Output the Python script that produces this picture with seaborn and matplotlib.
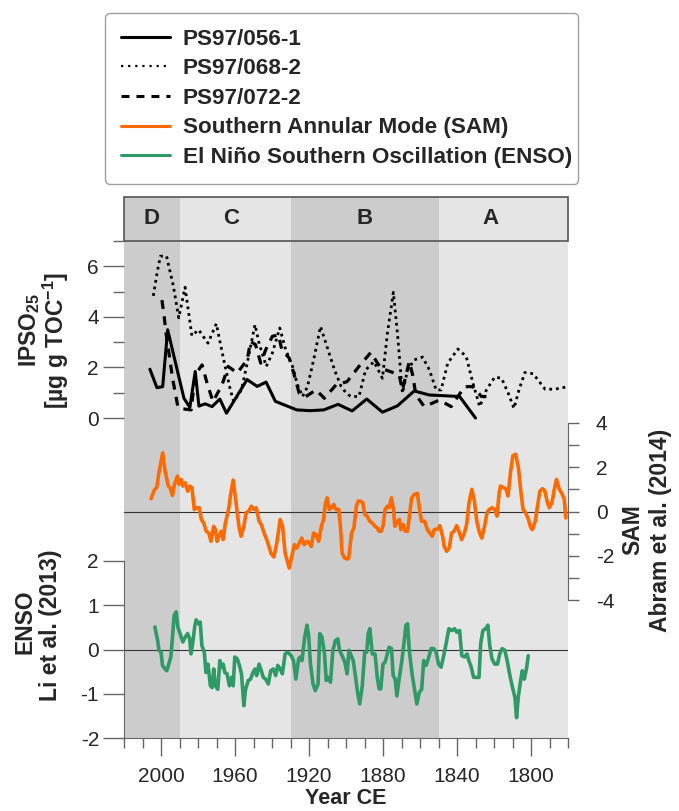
import matplotlib
matplotlib.use("Agg")
import matplotlib.pyplot as plt
from matplotlib.lines import Line2D
from matplotlib.patches import Rectangle
from matplotlib.ticker import MultipleLocator, FixedLocator
import seaborn as sns

sns.set_style("white")
plt.rcParams["font.family"] = ["Liberation Sans", "DejaVu Sans"]
plt.rcParams["mathtext.fontset"] = "custom"
plt.rcParams["mathtext.rm"] = "Liberation Sans:bold"
plt.rcParams["mathtext.it"] = "Liberation Sans:bold"
plt.rcParams["mathtext.bf"] = "Liberation Sans:bold"
plt.rcParams["mathtext.default"] = "regular"
plt.rcParams["axes.unicode_minus"] = False

# Zones
zone_names = ["D", "C", "B", "A"]
zone_edges = [(2020, 1990), (1990, 1930), (1930, 1850), (1850, 1780)]
zone_label_year = [2005, 1962, 1890, 1822]
zone_colors = ["#cccccc", "#e5e5e5", "#cccccc", "#e5e5e5"]

# IPSO25 records
ps056_year = [2006, 2002.2, 1999.1, 1996.4, 1987.6, 1984.4, 1981.5, 1979.5, 1976.1, 1972.4,
              1968.2, 1964.6, 1953.5, 1948.0, 1943.2, 1938.2, 1926.6, 1919.3, 1912.0, 1904.3,
              1896.7, 1888.8, 1880.3, 1872.2, 1863.1, 1855.0, 1838.6, 1830.0]
ps056_val = [1.93, 1.2, 1.24, 3.49, 0.78, 0.42, 1.84, 0.47, 0.56, 0.45,
             0.75, 0.19, 1.52, 1.25, 1.42, 0.66, 0.32, 0.29, 0.32, 0.54,
             0.28, 0.75, 0.23, 0.48, 1.07, 0.91, 0.85, 0.0]

ps068_year = [2004.5, 2001.8, 2000.3, 1997.0, 1993.3, 1990.4, 1987.0, 1983.3, 1979.7, 1974.6,
              1970.1, 1966.1, 1962.5, 1960.7, 1956.5, 1953.4, 1949.2, 1947.0, 1943.1, 1939.8,
              1935.8, 1932.6, 1928.9, 1926.2, 1923.5, 1920.8, 1917.1, 1913.8, 1910.3, 1906.2,
              1902.6, 1900.0, 1897.5, 1893.0, 1889.4, 1884.9, 1880.3, 1877.6, 1874.4, 1872.2,
              1869.5, 1866.7, 1863.1, 1858.6, 1854.9, 1851.3, 1848.6, 1845.0, 1839.5, 1835.0,
              1831.4, 1827.7, 1824.1, 1819.6, 1815.9, 1812.3, 1809.2, 1806.5, 1803.3, 1798.8,
              1792.4, 1787.0, 1781.5]
ps068_val = [4.68, 5.87, 6.4, 6.4, 5.21, 3.96, 5.17, 3.25, 3.49, 2.96,
             3.73, 2.3, 1.11, 0.65, 1.11, 2.17, 3.69, 2.96, 2.04, 2.57,
             3.56, 2.7, 2.04, 1.31, 0.85, 1.24, 2.43, 3.62, 2.83, 1.9,
             1.24, 1.0, 0.85, 0.85, 1.9, 2.23, 1.57, 3.36, 4.97, 3.36,
             0.98, 1.9, 2.3, 2.41, 1.9, 1.11, 1.11, 2.17, 2.73, 2.43,
             1.38, 0.45, 1.11, 1.62, 1.57, 0.98, 0.38, 1.11, 1.8, 1.75,
             1.14, 1.14, 1.22]

ps072_year = [2000.0, 1998.2, 1997.3, 1993.6, 1990.9, 1990.0, 1983.7, 1981.5, 1977.8, 1975.1,
              1971.9, 1967.0, 1963.7, 1958.8, 1953.4, 1951.6, 1948.9, 1946.1, 1943.4, 1939.8,
              1936.5, 1934.7, 1930.7, 1928.0, 1925.3, 1921.7, 1916.2, 1911.7, 1905.4, 1902.1,
              1899.4, 1893.0, 1886.6, 1881.2, 1878.5, 1871.3, 1869.5, 1865.8, 1864.0, 1862.2,
              1857.7, 1849.5, 1843.2, 1835.9, 1831.4, 1826.8, 1824.1]
ps072_val = [4.95, 3.96, 3.36, 1.51, 0.45, 0.38, 0.32, 1.71, 2.1, 1.38,
             0.65, 1.31, 2.04, 1.78, 2.3, 3.03, 2.9, 2.17, 2.7, 3.23,
             3.29, 2.7, 2.37, 1.71, 0.98, 0.85, 1.11, 0.78, 1.31, 1.38,
             1.44, 2.04, 2.59, 1.97, 1.9, 1.71, 1.11, 2.23, 1.71, 0.91,
             0.45, 0.71, 0.45, 1.24, 1.24, 0.85, 0.85]

# SAM (Abram et al. 2014)
sam_year = [2005.4, 2003.6, 2002.3, 2001.1, 1999.1, 1997.8, 1996.0, 1995.1, 1993.8, 1992.7,
            1991.1, 1990.2, 1989.1, 1988.2, 1986.9, 1985.6, 1984.5, 1983.3, 1982.0, 1980.6,
            1979.3, 1978.2, 1976.9, 1975.6, 1974.2, 1973.0, 1971.5, 1970.6, 1969.7, 1968.4,
            1967.4, 1966.4, 1965.2, 1963.3, 1962.5, 1961.0, 1959.4, 1957.9, 1956.7, 1955.2,
            1954.0, 1952.5, 1951.2, 1949.7, 1948.5, 1947.0, 1945.8, 1944.3, 1942.5, 1940.5,
            1939.0, 1937.4, 1935.6, 1934.3, 1932.9, 1930.7, 1929.3, 1927.9, 1926.6, 1924.8,
            1923.9, 1922.6, 1921.1, 1919.7, 1918.8, 1917.5, 1916.2, 1914.8, 1913.3, 1912.1,
            1911.2, 1910.2, 1909.0, 1907.9, 1906.7, 1905.4, 1903.9, 1903.0, 1902.1, 1900.8,
            1899.3, 1898.5, 1897.0, 1895.7, 1894.4, 1893.4, 1892.1, 1890.9, 1889.8, 1888.5,
            1887.2, 1885.8, 1884.3, 1883.1, 1882.2, 1880.9, 1879.8, 1878.9, 1877.6, 1876.7,
            1875.4, 1874.3, 1873.6, 1872.1, 1871.2, 1870.3, 1869.1, 1868.0, 1866.7, 1865.4,
            1864.5, 1863.1, 1861.4, 1860.1, 1859.2, 1857.5, 1856.0, 1854.7, 1853.4, 1852.3,
            1850.5, 1849.3, 1847.8, 1846.9, 1845.6, 1844.2, 1842.9, 1841.5, 1840.2, 1839.0,
            1837.5, 1836.0, 1834.8, 1833.5, 1832.0, 1830.6, 1829.3, 1827.8, 1826.6, 1825.1,
            1823.8, 1822.6, 1821.1, 1819.6, 1818.4, 1817.2, 1816.5, 1814.7, 1813.4, 1812.4,
            1811.1, 1809.8, 1808.3, 1806.8, 1805.6, 1804.3, 1802.9, 1801.4, 1800.1, 1799.2,
            1797.7, 1796.5, 1795.2, 1793.8, 1792.5, 1791.1, 1790.1, 1788.7, 1787.4, 1786.2,
            1784.7, 1783.5, 1782.0, 1781.2]
sam_val = [0.58, 0.97, 1.08, 1.76, 2.65, 1.83, 1.15, 1.08, 0.73, 1.23,
           1.6, 1.23, 1.45, 1.15, 1.3, 0.92, 1.15, 1.08, 0.09, 0.17,
           0.17, -0.36, -0.52, -0.89, -0.97, -1.35, -0.67, -0.82, -1.35, -1.05,
           -0.89, -1.27, -0.52, 0.17, 0.7, 1.42, 0.39, -0.67, -1.12, -0.67,
           -0.06, 0.02, 0.24, 0.09, 0.17, -0.44, -0.59, -0.97, -1.35, -1.9,
           -2.05, -1.42, -0.36, -0.67, -1.88, -2.56, -2.03, -1.5, -1.65, -1.35,
           -1.2, -1.5, -1.35, -1.42, -1.58, -0.97, -1.05, -1.35, -0.67, -0.36,
           0.32, 0.62, 0.09, 0.17, 0.32, 0.09, 0.09, -0.67, -1.88, -2.1,
           -2.15, -2.1, -0.97, -0.74, 0.24, 0.47, 0.47, 0.39, -0.14, -0.21,
           -0.44, -0.52, -0.67, -0.74, -0.89, -0.89, -0.59, 0.09, 0.24, 0.17,
           0.62, 0.09, -0.67, -0.44, -0.36, -0.82, -0.59, -0.89, -0.89, 0.02,
           0.62, 0.77, 0.82, 0.02, -0.44, -0.44, -0.82, -0.97, -1.12, -0.82,
           -0.79, -0.64, -1.12, -1.58, -1.8, -1.65, -0.97, -0.89, -0.64, -0.89,
           -1.27, -0.97, -0.59, 0.39, 1.0, 0.47, -0.44, -0.97, -1.2, -0.67,
           -0.06, 0.09, 0.17, 0.09, -0.21, 0.85, 1.15, 1.08, 1.0, 0.7,
           1.76, 2.52, 2.59, 1.98, 1.0, 0.09, -0.06, -0.36, -0.74, -0.82,
           -0.44, 0.24, 0.92, 1.03, 0.92, 0.39, 0.17, 0.39, 1.0, 1.45,
           1.0, 0.85, 0.55, -0.29]

# ENSO (Li et al. 2013)
enso_year = [2003.3, 2001.8, 2001.1, 2000.0, 1999.2, 1997.8, 1996.9, 1996.0, 1994.7, 1993.8,
             1992.9, 1991.8, 1990.9, 1989.7, 1988.2, 1986.9, 1985.6, 1984.5, 1983.8, 1982.9,
             1981.8, 1981.0, 1979.7, 1978.8, 1977.9, 1976.6, 1975.7, 1974.6, 1973.3, 1972.4,
             1971.5, 1970.6, 1969.3, 1968.2, 1967.4, 1966.4, 1965.5, 1964.3, 1963.0, 1961.9,
             1961.0, 1960.1, 1958.8, 1957.6, 1956.5, 1955.2, 1954.3, 1952.8, 1951.6, 1950.3,
             1949.2, 1948.3, 1947.0, 1945.8, 1944.7, 1943.4, 1942.0, 1940.7, 1939.3, 1938.0,
             1936.9, 1935.6, 1934.4, 1932.9, 1931.5, 1929.6, 1928.4, 1927.1, 1925.6, 1924.7,
             1923.8, 1922.3, 1921.1, 1920.2, 1919.2, 1917.8, 1916.6, 1915.1, 1914.2, 1913.0,
             1911.6, 1910.7, 1909.7, 1908.4, 1907.1, 1905.7, 1904.4, 1903.5, 1902.1, 1900.6,
             1899.4, 1898.4, 1897.2, 1896.1, 1894.8, 1893.9, 1892.6, 1891.2, 1889.9, 1888.8,
             1888.0, 1887.1, 1885.8, 1884.3, 1883.1, 1882.1, 1881.2, 1880.0, 1878.9, 1877.9,
             1876.7, 1875.4, 1874.5, 1873.4, 1872.5, 1871.3, 1869.8, 1868.5, 1867.6, 1866.7,
             1865.8, 1864.3, 1863.1, 1861.7, 1860.4, 1859.1, 1858.0, 1856.7, 1855.5, 1854.0,
             1852.6, 1851.3, 1850.0, 1848.6, 1847.2, 1845.9, 1844.4, 1842.8, 1841.3, 1840.1,
             1838.6, 1837.4, 1835.9, 1834.6, 1833.6, 1832.3, 1831.0, 1829.6, 1828.1, 1827.2,
             1826.0, 1824.5, 1823.3, 1822.3, 1821.1, 1819.6, 1818.1, 1816.9, 1815.6, 1814.1,
             1812.7, 1811.4, 1810.0, 1808.7, 1807.8, 1806.9, 1805.6, 1804.7, 1803.6, 1802.3,
             1801.5]
enso_val = [0.51, 0.2, -0.02, -0.06, -0.36, -0.44, -0.48, -0.36, -0.17, 0.28,
            0.77, 0.85, 0.51, 0.36, 0.17, 0.28, 0.36, 0.24, -0.1, 0.13,
            0.51, 0.67, 0.58, 0.62, 0.09, -0.06, -0.52, -0.33, -0.82, -0.86,
            -0.44, -0.82, -0.9, -0.25, -0.4, -0.33, -0.52, -0.55, -0.82, -0.63,
            -0.82, -0.17, -0.21, -0.36, -0.55, -1.27, -0.9, -0.7, -0.67, -0.52,
            -0.44, -0.59, -0.33, -0.48, -0.63, -0.67, -0.78, -0.48, -0.44, -0.59,
            -0.36, -0.44, -0.55, -0.1, -0.06, -0.14, -0.25, -0.67, -0.21, -0.17,
            -0.25, 0.28, 0.55, 0.32, -0.33, -0.78, -0.93, -0.78, 0.36, 0.28,
            -0.1, -0.7, -0.63, -0.74, -0.02, 0.2, 0.24, -0.02, -0.14, -0.29,
            -0.55, -0.02, -0.14, -0.25, -0.63, -0.93, -1.23, -0.82, -0.06, -0.06,
            0.36, 0.47, -0.1, -0.1, -0.63, -0.89, -0.89, -0.33, -0.29, -0.14,
            0.05, 0.02, -0.59, -0.67, -1.05, -0.67, -0.25, 0.2, 0.55, 0.58,
            -0.02, -0.55, -0.86, -1.23, -0.97, -0.9, -0.25, -0.36, -0.21, 0.02,
            0.02, -0.06, -0.33, -0.4, -0.14, 0.13, 0.47, 0.43, 0.47, 0.39,
            0.43, -0.14, -0.17, -0.1, -0.25, -0.4, -0.63, -0.63, -0.63, 0.13,
            0.43, 0.47, 0.55, 0.09, -0.21, -0.33, -0.33, -0.1, 0.02, -0.02,
            -0.29, -0.59, -0.86, -1.08, -1.54, -1.08, -0.7, -0.48, -0.67, -0.4,
            -0.14]

W, H = 679, 811
X0, X1 = 124, 568
XLIM = (2020, 1780)
TICK_COLOR = "#666666"
ORANGE = "#ff6a00"
GREEN = "#2f9a66"
TICK_SIZE = 15


def px_box(x0, y0, x1, y1):
    return [x0 / W, 1 - y1 / H, (x1 - x0) / W, (y1 - y0) / H]


fig = plt.figure(figsize=(W / 100, H / 100), dpi=100)

# background zones + header bar
bg = fig.add_axes(px_box(X0, 197, X1, 738))
bg.set_xlim(*XLIM)
bg.set_ylim(0, 1)
bg.axis("off")
for (a, b), c in zip(zone_edges, zone_colors):
    bg.axvspan(a, b, color=c, lw=0)
hb = 1 - 44 / 541
bg.add_patch(Rectangle((0, hb), 1, 1 - hb, transform=bg.transAxes,
                       fill=False, ec="#555555", lw=1.2, clip_on=False))
for name, yr in zip(zone_names, zone_label_year):
    bg.text(yr, (1 + hb) / 2, name, ha="center", va="center",
            fontsize=16, fontweight="bold")

# IPSO25 panel
ax1 = fig.add_axes(px_box(X0, 241, X1, 418))
ax1.patch.set_alpha(0)
sns.lineplot(x=ps056_year, y=ps056_val, ax=ax1, color="black", lw=2.2,
             errorbar=None, label="PS97/056-1", clip_on=False)
sns.lineplot(x=ps068_year, y=ps068_val, ax=ax1, color="black", lw=2.0,
             linestyle=(0, (1, 1.4)), errorbar=None, label="PS97/068-2")
sns.lineplot(x=ps072_year, y=ps072_val, ax=ax1, color="black", lw=2.3,
             linestyle=(0, (2.8, 2.3)), errorbar=None, label="PS97/072-2")
ax1.set_xlim(*XLIM)
ax1.set_ylim(0, 7)
ax1.legend_.remove()
for s in ax1.spines.values():
    s.set_visible(False)
ax1.set_xticks([])
ax1.yaxis.set_major_locator(FixedLocator([0, 2, 4, 6]))
ax1.yaxis.set_minor_locator(FixedLocator([1, 3, 5, 7]))
ax1.tick_params(axis="y", which="major", left=True, length=15, width=1,
                color=TICK_COLOR, labelsize=TICK_SIZE, pad=3)
ax1.tick_params(axis="y", which="minor", left=True, length=8, width=1,
                color=TICK_COLOR)
ax1.set_xlabel("")
ax1.set_ylabel("")

# SAM panel
ax2 = fig.add_axes(px_box(X0, 423, X1, 600))
ax2.patch.set_alpha(0)
ax2.axhline(0, color="#333333", lw=0.8)
sns.lineplot(x=sam_year, y=sam_val, ax=ax2, color=ORANGE, lw=2.6,
             errorbar=None, label="Southern Annular Mode (SAM)")
ax2.legend_.remove()
ax2.set_xlim(*XLIM)
ax2.set_ylim(-4, 4)
for k, s in ax2.spines.items():
    s.set_visible(k == "right")
ax2.spines["right"].set_color(TICK_COLOR)
ax2.set_xticks([])
ax2.yaxis.tick_right()
ax2.yaxis.set_major_locator(FixedLocator([-4, -2, 0, 2, 4]))
ax2.yaxis.set_minor_locator(FixedLocator([-3, -1, 1, 3]))
ax2.tick_params(axis="y", which="both", right=True, left=False, length=8,
                width=1, color=TICK_COLOR, labelsize=TICK_SIZE, pad=12)
ax2.set_xlabel("")
ax2.set_ylabel("")

# ENSO panel
ax3 = fig.add_axes(px_box(X0, 561, X1, 738))
ax3.patch.set_alpha(0)
ax3.axhline(0, color="#333333", lw=0.8)
sns.lineplot(x=enso_year, y=enso_val, ax=ax3, color=GREEN, lw=2.6,
             errorbar=None, label="El Niño Southern Oscillation (ENSO)")
ax3.legend_.remove()
ax3.set_xlim(*XLIM)
ax3.set_ylim(-2, 2)
ax3.spines["top"].set_visible(False)
ax3.spines["right"].set_visible(False)
ax3.spines["left"].set_color(TICK_COLOR)
ax3.spines["bottom"].set_color(TICK_COLOR)
ax3.yaxis.set_major_locator(MultipleLocator(1))
ax3.xaxis.set_major_locator(MultipleLocator(40))
ax3.xaxis.set_minor_locator(MultipleLocator(10))
ax3.tick_params(axis="y", which="major", left=True, length=15, width=1,
                color=TICK_COLOR, labelsize=TICK_SIZE, pad=3)
ax3.tick_params(axis="x", which="major", bottom=True, length=13, width=1,
                color=TICK_COLOR, labelsize=TICK_SIZE, pad=8)
ax3.tick_params(axis="x", which="minor", bottom=True, length=7, width=1,
                color=TICK_COLOR)
ax3.set_ylabel("")
ax3.set_xlabel("Year CE", fontsize=15.5, fontweight="bold", labelpad=1)

# axis titles
title_kw = dict(rotation=90, ha="center", va="center", fontsize=16.5,
                fontweight="bold")
fig.text(30 / W, 1 - 330 / H, "IPSO$_{25}$", **title_kw)
fig.text(56 / W, 1 - 340 / H, "[µg g TOC$^{-1}$]", **title_kw)
fig.text(633 / W, 1 - 530 / H, "SAM", **title_kw)
fig.text(660 / W, 1 - 530 / H, "Abram et al. (2014)", **title_kw)
fig.text(25 / W, 1 - 622 / H, "ENSO", **title_kw)
fig.text(51 / W, 1 - 625 / H, "Li et al. (2013)", **title_kw)

# legend
handles = [
    Line2D([], [], color="black", lw=2.2),
    Line2D([], [], color="black", lw=1.6, linestyle=(0, (1, 2.2))),
    Line2D([], [], color="black", lw=2.2, linestyle=(0, (2.6, 2.3))),
    Line2D([], [], color=ORANGE, lw=2.2),
    Line2D([], [], color=GREEN, lw=2.2),
]
labels = ["PS97/056-1", "PS97/068-2", "PS97/072-2",
          "Southern Annular Mode (SAM)", "El Niño Southern Oscillation (ENSO)"]
leg = fig.legend(handles, labels, loc="upper left",
                 bbox_to_anchor=(105 / W, 1 - 13 / H, 473 / W, 0.0),
                 mode="expand", frameon=True, fancybox=True,
                 prop={"size": 16.2, "weight": "bold"}, handlelength=2.2,
                 handletextpad=0.55, labelspacing=0.38, borderpad=0.7,
                 borderaxespad=0)
leg.get_frame().set_edgecolor("#888888")
leg.get_frame().set_linewidth(1.0)

fig.savefig("out.png", dpi=100)
